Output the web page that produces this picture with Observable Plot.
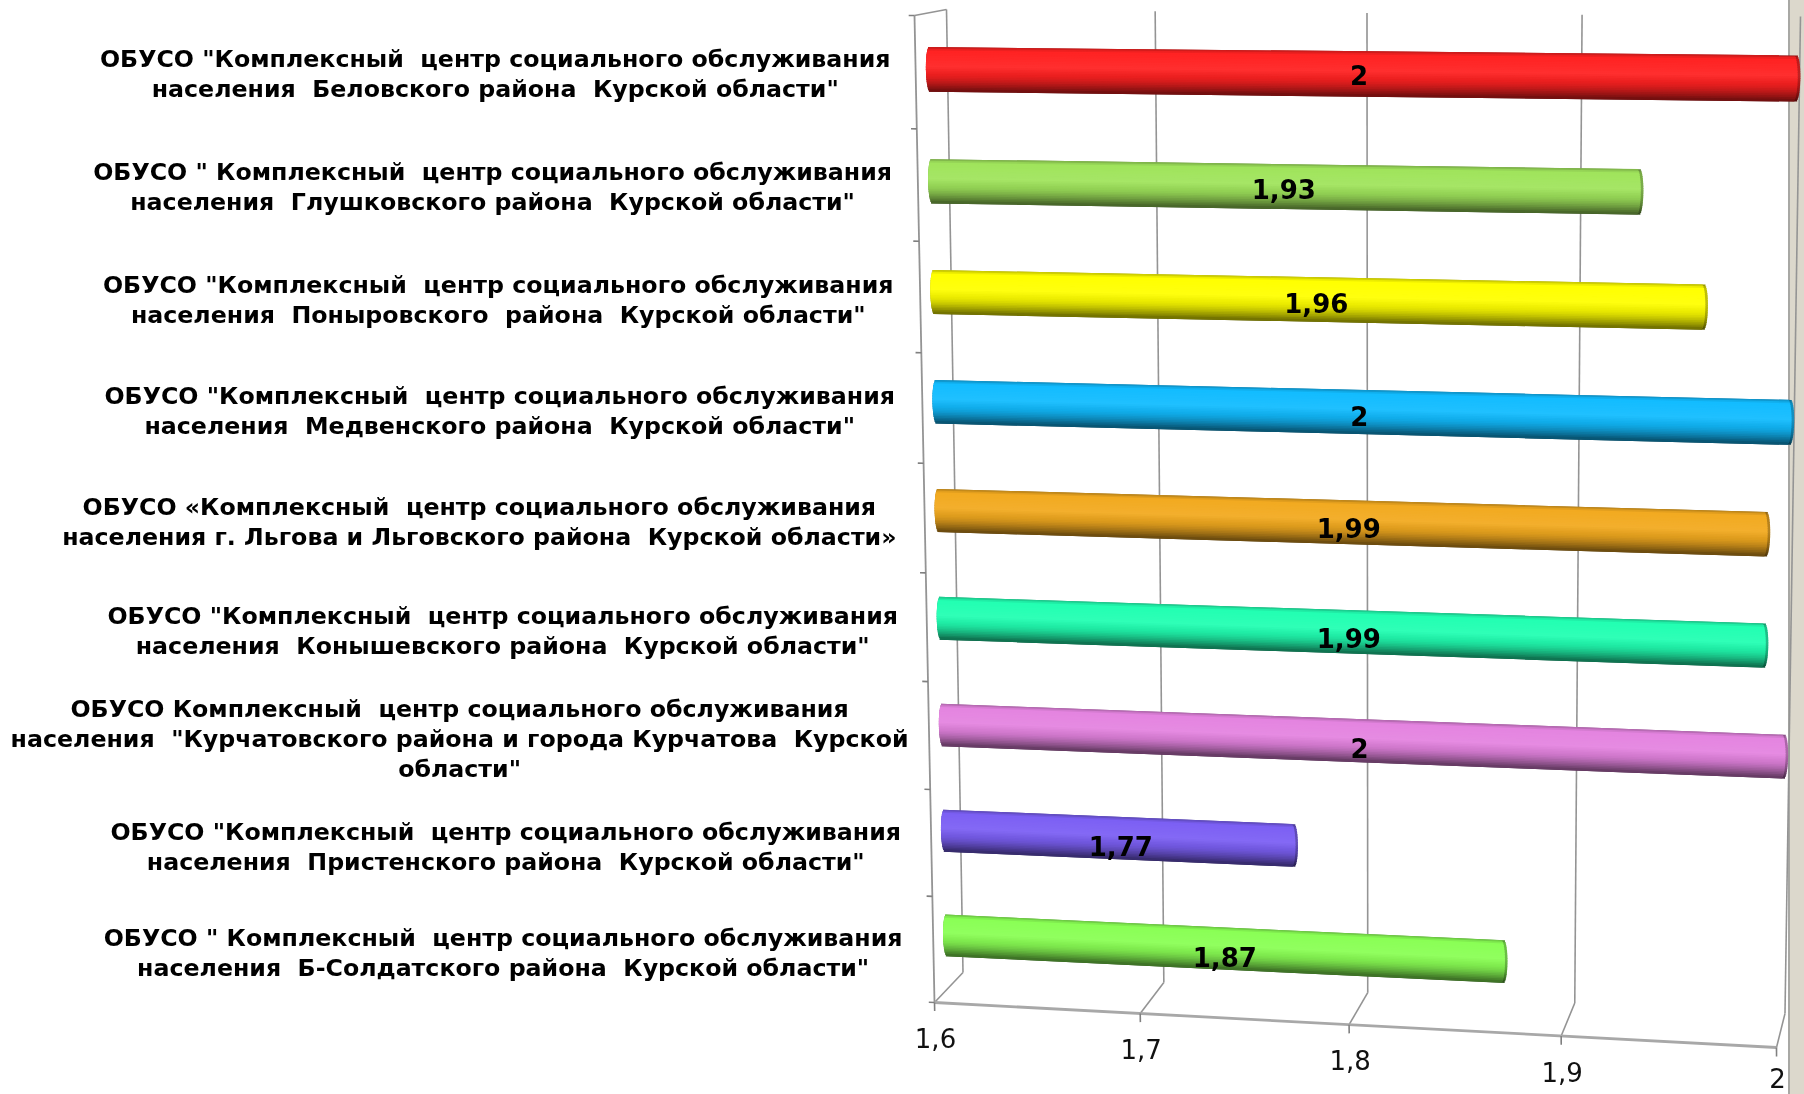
<!DOCTYPE html>
<html lang="ru">
<head>
<meta charset="utf-8">
<script src="https://cdn.jsdelivr.net/npm/d3@7"></script>
<script src="https://cdn.jsdelivr.net/npm/@observablehq/plot@0.6"></script>
<style>
html,body{margin:0;padding:0;background:#fff;width:1804px;height:1094px;overflow:hidden}
#edge{position:absolute;left:1788px;top:0;width:16px;height:1094px;background:#dcd8cc;border-left:2px solid #a8a8a4;box-sizing:border-box}
#chart{position:absolute;left:0;top:0}
#chart svg{filter:blur(0.45px)}
</style>
</head>
<body>
<div id="edge"></div>
<div id="chart"></div>
<script>
// ---------- data ----------
const prefix = [
  'ОБУСО "Комплексный  центр социального обслуживания',
  'ОБУСО " Комплексный  центр социального обслуживания',
  'ОБУСО "Комплексный  центр социального обслуживания',
  'ОБУСО "Комплексный  центр социального обслуживания',
  'ОБУСО «Комплексный  центр социального обслуживания',
  'ОБУСО "Комплексный  центр социального обслуживания',
  'ОБУСО Комплексный  центр социального обслуживания',
  'ОБУСО "Комплексный  центр социального обслуживания',
  'ОБУСО " Комплексный  центр социального обслуживания'
];
const suffix = [
  'населения  Беловского района  Курской области"',
  'населения  Глушковского района  Курской области"',
  'населения  Поныровского  района  Курской области"',
  'населения  Медвенского района  Курской области"',
  'населения г. Льгова и Льговского района  Курской области»',
  'населения  Конышевского района  Курской области"',
  'населения  "Курчатовского района и города Курчатова  Курской\nобласти"',
  'населения  Пристенского района  Курской области"',
  'населения  Б-Солдатского района  Курской области"'
];
const values = [2, 1.93, 1.96, 2, 1.99, 1.99, 2, 1.77, 1.87];
const valueLabels = ["2", "1,93", "1,96", "2", "1,99", "1,99", "2", "1,77", "1,87"];
const barColors = ["#ff2222", "#a0e45c", "#ffff00", "#12bcff", "#f2aa20", "#22ffb2", "#e484e0", "#7c60f4", "#8aff55"];
const xTicks = [1.6, 1.7, 1.8, 1.9, 2];
const xTickLabels = ["1,6", "1,7", "1,8", "1,9", "2"];

// ---------- perspective calibration of the 3-D box ----------
const W = 1804, H = 1094;
const warp = (t, k) => t * (1 + k) / (1 + k * t);
const bilinear = ([tl, tr, bl, br]) => (v, w) => {
  const s = warp((v - 1.6) / 0.4, -0.03), u = warp(w, 0.038);
  const top = [tl[0] + (tr[0] - tl[0]) * s, tl[1] + (tr[1] - tl[1]) * s];
  const bot = [bl[0] + (br[0] - bl[0]) * s, bl[1] + (br[1] - bl[1]) * s];
  return [top[0] + (bot[0] - top[0]) * u, top[1] + (bot[1] - top[1]) * u];
};
const barPlane = bilinear([[929, 69], [1796, 78], [946, 935], [1780, 974]]);
const backPlane = bilinear([[946, 9], [1800, 16], [962.5, 972], [1784.5, 1013]]);
const frontPlane = bilinear([[914, 15], [1770, 20], [934, 1002], [1776, 1047]]);
// The y channel selects the plane: row numbers for bars, then offset ranges.
const BACK = 100, FRONT = 200, SIDE = 300, TICKTEXT = 400;
const perspective = d3.geoTransform({
  point(x, y) {
    let p;
    if (y >= TICKTEXT) { p = frontPlane(x, 1); p = [p[0] + 1, Math.min(p[1] + 37.5, H - 14.5)]; }
    else if (y >= SIDE) p = [x, 72 + 879 * warp((y - SIDE) / 8, 0.0367)];
    else if (y >= FRONT) p = frontPlane(x, y - FRONT);
    else if (y >= BACK) p = backPlane(x, y - BACK);
    else p = barPlane(x, y / 8);
    this.stream.point(p[0], p[1]);
  }
});

// ---------- derived tables ----------
const rows = values.map((value, i) => ({i, value, color: barColors[i], label: prefix[i] + "\n" + suffix[i], text: valueLabels[i]}));

// cylinder shading: top-to-bottom profile across the bar
const profile = (c, t) => {
  const base = d3.rgb(c);
  const dark = (a) => d3.interpolateRgb(base, "#000")(a);
  const light = (a) => d3.interpolateRgb(base, "#fff")(a);
  if (t < 0.08) return dark(0.25 * (1 - t / 0.08));
  if (t < 0.45) return light(0.06 * (t - 0.08) / 0.37);
  if (t < 0.62) return d3.interpolateRgb(light(0.06), dark(0.08))((t - 0.45) / 0.17);
  return dark(0.08 + 0.5 * ((t - 0.62) / 0.38) ** 1.4);
};
const half = 0.195, bands = 26, rim = 0.0017;
const bandRows = rows.flatMap(r => d3.range(bands).map(b => {
  const t = (b + 0.5) / bands, e = Math.sqrt(Math.max(0, 1 - (2 * t - 1) ** 2));
  return {
    x1: 1.6 - rim * e, x2: r.value + rim * e, xBody: r.value + rim * e - 0.0012,
    y: r.i + (2 * t - 1) * half,
    stroke: profile(r.color, t),
    rim: d3.interpolateRgb(profile(r.color, t), "#000")(0.25)
  };
}));

// wall and axis lines
const gridLines = xTicks;
const leftTicks = d3.range(10).map(i => i / 9);

// label placement: each text block is centred but right-aligned as a block
const labelSize = 23.7;
const ctx = document.createElement("canvas").getContext("2d");
ctx.font = `bold ${labelSize}px "DejaVu Sans"`;
const labelLines = s => s.split("\n");
const blockWidth = s => d3.max(labelLines(s), l => ctx.measureText(l).width);
rows.forEach(r => {
  r.labelX = 890 + 1.5 * r.i + (labelLines(r.label).length > 2 ? 9 : 0) - blockWidth(r.label) / 2;
});

const gridColor = "#949494";
const chart = Plot.plot({
  width: W, height: H, margin: 0,
  projection: perspective,
  color: {type: "identity"},
  style: {background: "transparent", overflow: "visible"},
  marks: [
    // back wall grid
    Plot.link(gridLines, {x1: d => d, x2: d => d, y1: BACK, y2: BACK + 1, stroke: gridColor, strokeWidth: 1.6}),
    // floor depth lines
    Plot.link(gridLines, {x1: d => d, x2: d => d, y1: BACK + 1, y2: FRONT + 1, stroke: gridColor, strokeWidth: 1.6}),
    // top of the left wall and its front edge
    Plot.link([1.6], {x1: d => d, x2: d => d, y1: FRONT, y2: BACK, stroke: gridColor, strokeWidth: 1.6}),
    Plot.link([1.6], {x1: d => d, x2: d => d, y1: FRONT, y2: FRONT + 1, stroke: gridColor, strokeWidth: 1.8}),
    // front floor line
    Plot.link([0], {x1: 1.6, x2: 2, y1: FRONT + 1, y2: FRONT + 1, stroke: "#a8a8a8", strokeWidth: 2.8}),
    // x tick marks
    Plot.link(xTicks, {x1: d => d, x2: d => d, y1: FRONT + 1, y2: FRONT + 1.009, stroke: "#808080", strokeWidth: 1.6}),
    // left axis tick marks
    Plot.link(leftTicks, {x1: 1.5972, x2: 1.6, y1: d => FRONT + d, y2: d => FRONT + d, stroke: "#808080", strokeWidth: 1.6}),
    // cylinders
    Plot.link(bandRows, {x1: "x1", x2: "x2", y1: "y", y2: "y", stroke: "rim", strokeWidth: 2.6}),
    Plot.link(bandRows, {x1: "x1", x2: "xBody", y1: "y", y2: "y", stroke: "stroke", strokeWidth: 2.6}),
    // value labels at mid-bar
    Plot.text(rows, {
      x: d => (1.6 + d.value) / 2 + 0.0012, y: d => d.i * 1.009, text: "text", dy: 3,
      fontFamily: "DejaVu Sans", fontWeight: "bold", fontSize: 26, fill: "#000"
    }),
    // x tick labels
    Plot.text(xTicks, {
      x: d => d, y: TICKTEXT, text: (d, i) => xTickLabels[i],
      fontFamily: "DejaVu Sans", fontSize: 26, fill: "#111"
    }),
    // category labels
    Plot.text(rows, {
      x: "labelX", y: d => SIDE + d.i, text: "label",
      textAnchor: "middle", lineAnchor: "middle", lineHeight: 1.266,
      fontFamily: "DejaVu Sans", fontWeight: "bold", fontSize: labelSize, fill: "#000"
    })
  ]
});
document.getElementById("chart").append(chart);
</script>
</body>
</html>
